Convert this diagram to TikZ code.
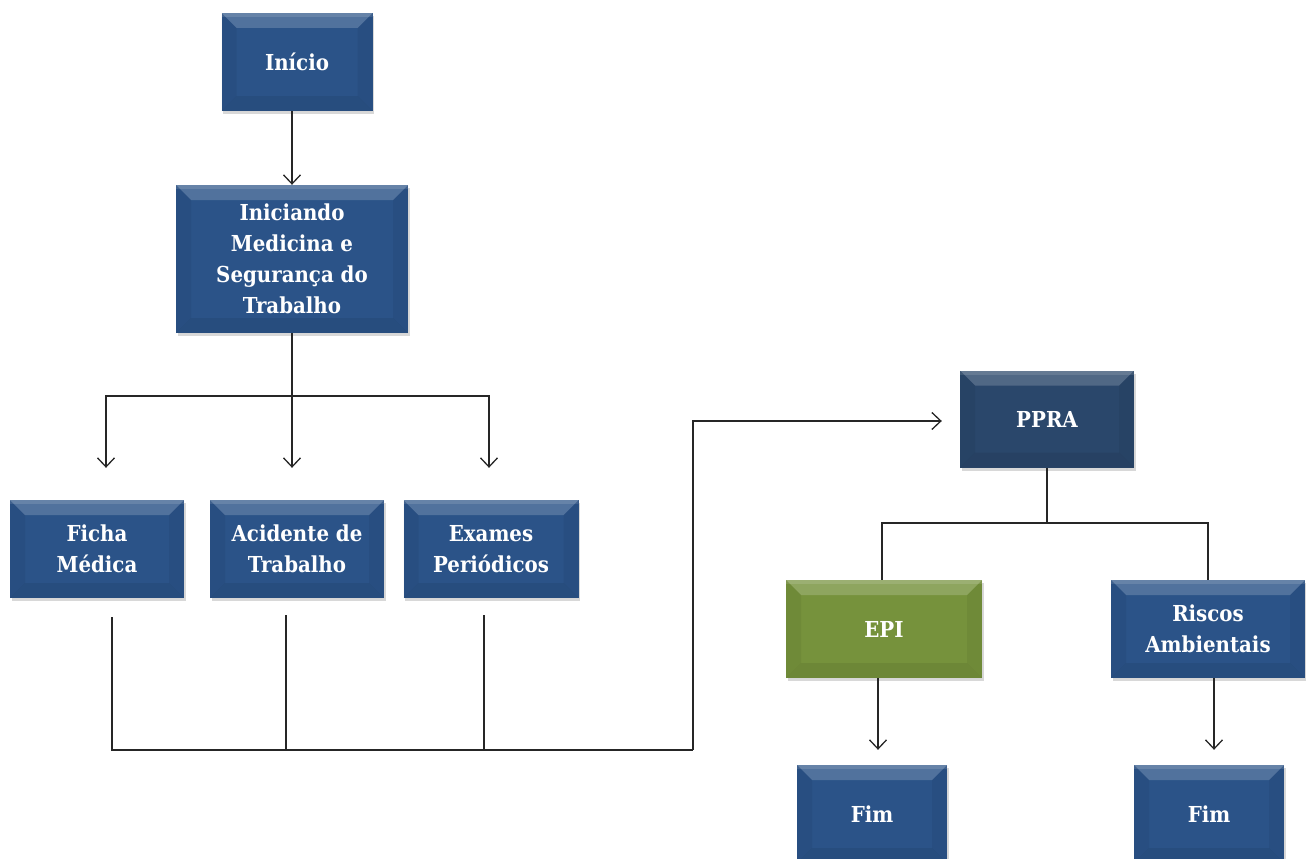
\documentclass[tikz,border=0pt]{standalone}
\usepackage{fontspec}
\setmainfont{DejaVu Serif Condensed}
\usetikzlibrary{arrows.meta,shadows}
\definecolor{bblue}{HTML}{2B5388}
\definecolor{bnavy}{HTML}{2A476B}
\definecolor{bgreen}{HTML}{76923C}
\tikzset{
  x=1pt, y=-1pt,
  bev/.style={
    fill=#1, draw=none, inner sep=0pt, align=center,
    text=white, font=\bfseries\fontsize{22}{31}\selectfont,
    drop shadow={opacity=0.3, shadow xshift=1.5pt, shadow yshift=-3pt},
    path picture={
      \coordinate (nw) at (path picture bounding box.north west);
      \coordinate (ne) at (path picture bounding box.north east);
      \coordinate (sw) at (path picture bounding box.south west);
      \coordinate (se) at (path picture bounding box.south east);
      \fill[white,opacity=0.18] (nw) -- (ne) -- ([xshift=-15pt,yshift=-15pt]ne) -- ([xshift=15pt,yshift=-15pt]nw) -- cycle;
      \fill[white,opacity=0.12] (nw) -- (ne) -- ([yshift=-4pt]ne) -- ([yshift=-4pt]nw) -- cycle;
      \fill[black,opacity=0.05] (nw) -- ([xshift=15pt,yshift=-15pt]nw) -- ([xshift=15pt,yshift=15pt]sw) -- (sw) -- cycle;
      \fill[black,opacity=0.05] (ne) -- ([xshift=-15pt,yshift=-15pt]ne) -- ([xshift=-15pt,yshift=15pt]se) -- (se) -- cycle;
      \fill[black,opacity=0.07] (sw) -- ([xshift=15pt,yshift=15pt]sw) -- ([xshift=-15pt,yshift=15pt]se) -- (se) -- cycle;
    }},
  ln/.style={draw=black!85, line width=1.3pt},
  arr/.style={ln, -{Straight Barb[length=9pt,width=17pt,line width=1.3pt]}}
}
\begin{document}
\begin{tikzpicture}
\useasboundingbox[fill=white] (0,0) rectangle (1306,859);
\node[bev=bblue, minimum width=151pt, minimum height=98pt] (inicio) at (297,62) {Início};
\node[bev=bblue, minimum width=232pt, minimum height=148pt] (iniciando) at (292,259) {Iniciando\\Medicina e\\Segurança do\\Trabalho};
\node[bev=bblue, minimum width=174pt, minimum height=98pt] (ficha) at (97,549) {Ficha\\Médica};
\node[bev=bblue, minimum width=174pt, minimum height=98pt] (acidente) at (297,549) {Acidente de\\Trabalho};
\node[bev=bblue, minimum width=175pt, minimum height=98pt] (exames) at (491,549) {Exames\\Periódicos};
\node[bev=bnavy, minimum width=174pt, minimum height=97pt] (ppra) at (1047,419) {PPRA};
\node[bev=bgreen, minimum width=196pt, minimum height=98pt] (epi) at (884,629) {EPI};
\node[bev=bblue, minimum width=194pt, minimum height=98pt] (riscos) at (1208,629) {Riscos\\Ambientais};
\node[bev=bblue, minimum width=150pt, minimum height=98pt] (fim1) at (872,814) {Fim};
\node[bev=bblue, minimum width=150pt, minimum height=98pt] (fim2) at (1209,814) {Fim};

\coordinate (hbar) at (0,396);
\coordinate (m) at (693,750);
\coordinate (pb) at (1045,523);

\draw[arr] (iniciando.north |- inicio.south) -- (iniciando.north);
\draw[arr, shorten >=32pt] (iniciando.south) -- (iniciando.south |- acidente.north);
\draw[arr, shorten >=32pt] (iniciando.south |- hbar) -| ([xshift=9pt]ficha.north);
\draw[arr, shorten >=32pt] (iniciando.south |- hbar) -| ([xshift=-2pt]exames.north);

\draw[ln] ([xshift=15pt,yshift=-19pt]ficha.south) |- (m);
\draw[ln] ([xshift=-11pt,yshift=-17pt]acidente.south) -- ([xshift=-11pt]acidente.south |- m);
\draw[ln] ([xshift=-7pt,yshift=-17pt]exames.south) -- ([xshift=-7pt]exames.south |- m);
\draw[arr] (m) |- ([xshift=-18pt,yshift=-2pt]ppra.west);

\draw[ln] (ppra.south) -- (ppra.south |- pb);
\draw[ln] ([xshift=-2pt]epi.north) |- (pb) -| (riscos.north);

\draw[arr, shorten >=15pt] ([xshift=-6pt]epi.south) -- ([xshift=-6pt]epi.south |- fim1.north);
\draw[arr, shorten >=15pt] ([xshift=6pt]riscos.south) -- ([xshift=6pt]riscos.south |- fim2.north);
\end{tikzpicture}
\end{document}
